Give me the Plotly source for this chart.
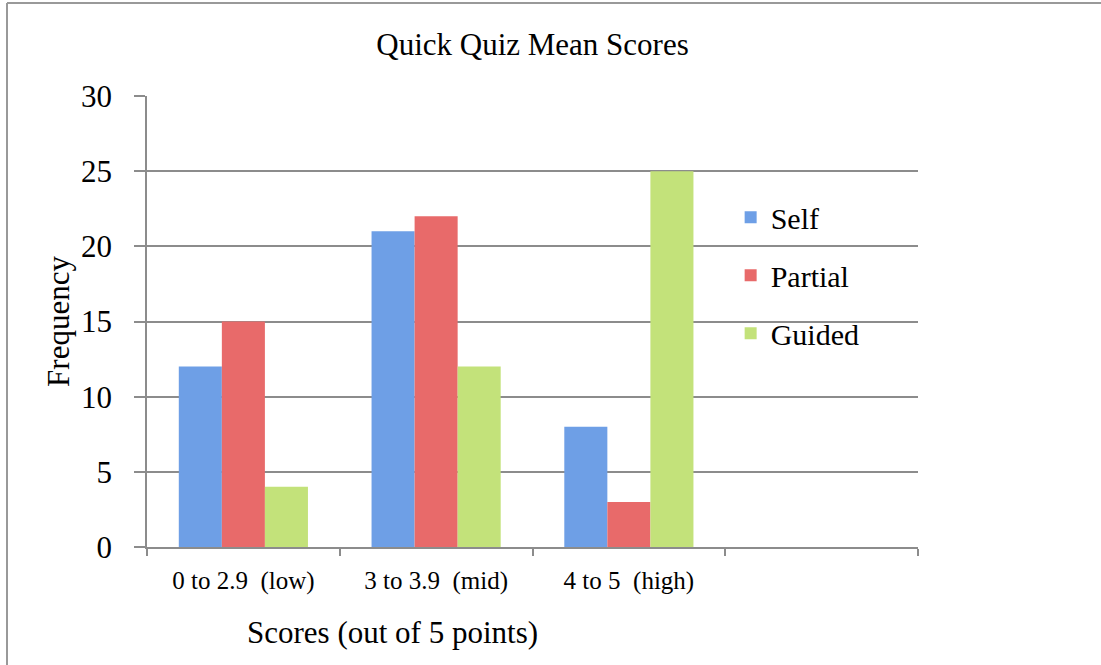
import plotly.graph_objects as go

categories = ["0 to 2.9  (low)", "3 to 3.9  (mid)", "4 to 5  (high)", " "]
series_names = ["Self", "Partial", "Guided"]
self_vals = [12, 21, 8]
partial_vals = [15, 22, 3]
guided_vals = [4, 12, 25]
colors = ["#6E9FE6", "#E86A6A", "#C3E27A"]
y_ticks = [0, 5, 10, 15, 20, 25, 30]

FONT = "Liberation Serif, Times New Roman, serif"

fig = go.Figure()
for name, vals, col in zip(series_names, [self_vals, partial_vals, guided_vals], colors):
    fig.add_trace(go.Bar(
        name=name, x=categories[:3], y=vals,
        marker=dict(color=col, line=dict(width=0)),
        legendgroup=name,
    ))

W, H = 1101, 665
L, R, T, B = 147, 183, 96, 118
PW, PH = W - L - R, H - T - B

fig.update_layout(
    width=W, height=H,
    margin=dict(l=L, r=R, t=T, b=B, pad=0),
    paper_bgcolor="white", plot_bgcolor="white",
    font=dict(family=FONT, color="black"),
    barmode="group", bargap=0.33, bargroupgap=0,
    title=dict(text="Quick Quiz Mean Scores", x=0.5, xanchor="center",
               y=1 - 44 / H, yanchor="middle", xref="paper",
               font=dict(size=31, family=FONT, color="black")),
    legend=dict(x=0.757, y=0.789, xanchor="left", yanchor="top",
                font=dict(size=30, family=FONT, color="black"),
                traceorder="grouped", tracegroupgap=16,
                bgcolor="rgba(0,0,0,0)", itemwidth=30),
    showlegend=True,
)
fig.update_xaxes(
    type="category", categoryorder="array", categoryarray=categories,
    range=[-0.5, 3.5], tickson="boundaries",
    ticks="outside", ticklen=7, tickwidth=1.5, tickcolor="#8c8c8c",
    showline=True, linecolor="#8c8c8c", linewidth=1.5,
    showgrid=False, tickfont=dict(size=25, family=FONT, color="black"),
    ticklabelstandoff=10,
)
fig.update_yaxes(
    range=[0, 30], tickvals=y_ticks, ticks="outside", ticklen=11,
    tickwidth=1.5, tickcolor="#8c8c8c",
    showline=True, linecolor="#8c8c8c", linewidth=1.5,
    showgrid=True, gridcolor="#8c8c8c", gridwidth=1.5, zeroline=False,
    tickfont=dict(size=31, family=FONT, color="black"),
    ticklabelstandoff=16,
    title=dict(text="Frequency", font=dict(size=31, family=FONT, color="black"), standoff=2),
)
fig.add_annotation(
    text="Scores (out of 5 points)", xref="paper", yref="paper",
    x=(392 - L) / PW, y=-(632 - (H - B)) / PH,
    xanchor="center", yanchor="middle", showarrow=False,
    font=dict(size=31, family=FONT, color="black"),
)
# outer chart border (top and left edges visible)
fig.add_shape(type="line", xref="paper", yref="paper",
              x0=(7 - L) / PW, x1=(W + 20 - L) / PW,
              y0=(H - B - 3) / PH, y1=(H - B - 3) / PH,
              line=dict(color="#999999", width=2))
fig.add_shape(type="line", xref="paper", yref="paper",
              x0=(7 - L) / PW, x1=(7 - L) / PW,
              y0=(H - B - 3) / PH, y1=-(H + 20 - (H - B)) / PH,
              line=dict(color="#999999", width=2))

fig.write_html("out.html", config={"displayModeBar": False},
               post_script="document.body.style.margin='0px';")
